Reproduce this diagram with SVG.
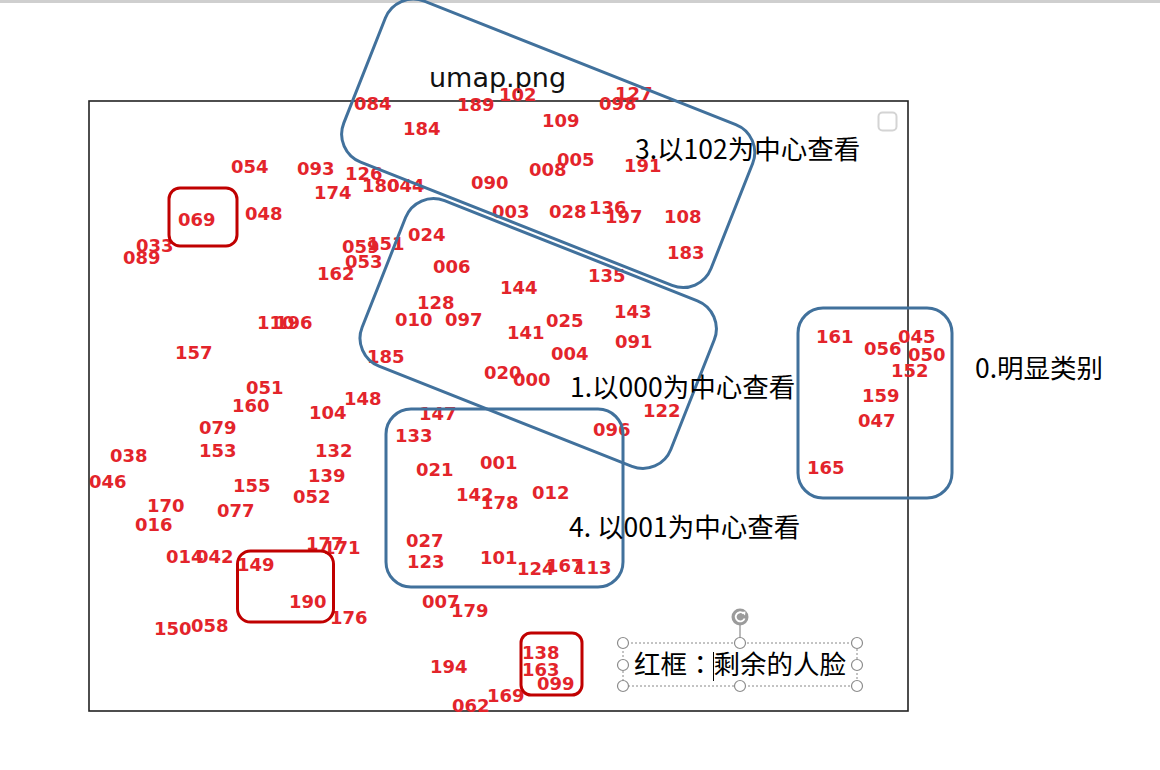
<svg xmlns="http://www.w3.org/2000/svg" width="1160" height="770" viewBox="0 0 1160 770">
<style>
.lbl{font-family:"DejaVu Sans","Liberation Sans",sans-serif;font-weight:bold;font-size:18px;fill:#e3242b}
.cjk{font-family:"Noto Sans CJK SC","Noto Sans",sans-serif;font-size:26.5px;fill:#000}
.ttl{font-family:"DejaVu Sans","Liberation Sans",sans-serif;font-size:27px;fill:#111}
.blue{fill:none;stroke:#41719c;stroke-width:3}
.red{fill:none;stroke:#c00000;stroke-width:3}
.hdl{fill:#fff;stroke:#8c8c8c;stroke-width:1.2}
</style>
<rect x="0" y="0" width="1160" height="770" fill="#fff"/>
<rect x="0" y="0" width="1160" height="3" fill="#cfcfcf"/>
<g id="plot">
<rect x="89" y="101" width="819" height="610" fill="none" stroke="#222" stroke-width="1.6"/>
<rect x="878.5" y="112.5" width="18" height="18" rx="4" fill="none" stroke="#d4d4d4" stroke-width="2"/>
<text class="ttl" x="429" y="87">umap.png</text>
</g>
<g id="labels">
<text class="lbl" x="354" y="110">084</text>
<text class="lbl" x="457" y="111">189</text>
<text class="lbl" x="499" y="101">102</text>
<text class="lbl" x="615" y="100">127</text>
<text class="lbl" x="599" y="110">098</text>
<text class="lbl" x="403" y="135">184</text>
<text class="lbl" x="542" y="127">109</text>
<text class="lbl" x="557" y="166">005</text>
<text class="lbl" x="529" y="176">008</text>
<text class="lbl" x="624" y="172">191</text>
<text class="lbl" x="471" y="189">090</text>
<text class="lbl" x="492" y="218">003</text>
<text class="lbl" x="549" y="218">028</text>
<text class="lbl" x="589" y="214">136</text>
<text class="lbl" x="605" y="223">197</text>
<text class="lbl" x="664" y="223">108</text>
<text class="lbl" x="667" y="259">183</text>
<text class="lbl" x="588" y="282">135</text>
<text class="lbl" x="500" y="294">144</text>
<text class="lbl" x="408" y="241">024</text>
<text class="lbl" x="433" y="273">006</text>
<text class="lbl" x="345" y="180">126</text>
<text class="lbl" x="362" y="192">180</text>
<text class="lbl" x="387" y="192">044</text>
<text class="lbl" x="297" y="175">093</text>
<text class="lbl" x="314" y="199">174</text>
<text class="lbl" x="231" y="173">054</text>
<text class="lbl" x="245" y="220">048</text>
<text class="lbl" x="178" y="226">069</text>
<text class="lbl" x="136" y="252">033</text>
<text class="lbl" x="123" y="264">089</text>
<text class="lbl" x="342" y="253">059</text>
<text class="lbl" x="367" y="250">151</text>
<text class="lbl" x="345" y="268">053</text>
<text class="lbl" x="317" y="280">162</text>
<text class="lbl" x="257" y="329">110</text>
<text class="lbl" x="275" y="329">196</text>
<text class="lbl" x="175" y="359">157</text>
<text class="lbl" x="246" y="394">051</text>
<text class="lbl" x="232" y="412">160</text>
<text class="lbl" x="344" y="405">148</text>
<text class="lbl" x="309" y="419">104</text>
<text class="lbl" x="199" y="434">079</text>
<text class="lbl" x="199" y="457">153</text>
<text class="lbl" x="315" y="457">132</text>
<text class="lbl" x="110" y="462">038</text>
<text class="lbl" x="89" y="488">046</text>
<text class="lbl" x="308" y="482">139</text>
<text class="lbl" x="233" y="492">155</text>
<text class="lbl" x="293" y="503">052</text>
<text class="lbl" x="147" y="512">170</text>
<text class="lbl" x="217" y="517">077</text>
<text class="lbl" x="135" y="531">016</text>
<text class="lbl" x="306" y="550">177</text>
<text class="lbl" x="323" y="554">171</text>
<text class="lbl" x="166" y="563">014</text>
<text class="lbl" x="196" y="563">042</text>
<text class="lbl" x="237" y="571">149</text>
<text class="lbl" x="289" y="608">190</text>
<text class="lbl" x="330" y="624">176</text>
<text class="lbl" x="154" y="635">150</text>
<text class="lbl" x="191" y="632">058</text>
<text class="lbl" x="367" y="363">185</text>
<text class="lbl" x="417" y="309">128</text>
<text class="lbl" x="395" y="326">010</text>
<text class="lbl" x="445" y="326">097</text>
<text class="lbl" x="614" y="318">143</text>
<text class="lbl" x="546" y="327">025</text>
<text class="lbl" x="507" y="339">141</text>
<text class="lbl" x="615" y="348">091</text>
<text class="lbl" x="551" y="360">004</text>
<text class="lbl" x="484" y="379">020</text>
<text class="lbl" x="513" y="386">000</text>
<text class="lbl" x="643" y="417">122</text>
<text class="lbl" x="419" y="420">147</text>
<text class="lbl" x="395" y="442">133</text>
<text class="lbl" x="593" y="436">096</text>
<text class="lbl" x="480" y="469">001</text>
<text class="lbl" x="416" y="476">021</text>
<text class="lbl" x="456" y="501">142</text>
<text class="lbl" x="481" y="509">178</text>
<text class="lbl" x="532" y="499">012</text>
<text class="lbl" x="406" y="547">027</text>
<text class="lbl" x="407" y="568">123</text>
<text class="lbl" x="480" y="564">101</text>
<text class="lbl" x="517" y="575">124</text>
<text class="lbl" x="546" y="572">167</text>
<text class="lbl" x="574" y="574">113</text>
<text class="lbl" x="422" y="608">007</text>
<text class="lbl" x="451" y="617">179</text>
<text class="lbl" x="430" y="673">194</text>
<text class="lbl" x="522" y="659">138</text>
<text class="lbl" x="522" y="676">163</text>
<text class="lbl" x="537" y="690">099</text>
<text class="lbl" x="487" y="702">169</text>
<text class="lbl" x="452" y="712">062</text>
<text class="lbl" x="816" y="343">161</text>
<text class="lbl" x="864" y="355">056</text>
<text class="lbl" x="898" y="343">045</text>
<text class="lbl" x="908" y="361">050</text>
<text class="lbl" x="891" y="377">152</text>
<text class="lbl" x="862" y="402">159</text>
<text class="lbl" x="858" y="427">047</text>
<text class="lbl" x="807" y="474">165</text>
</g>
<g id="group3">
<rect class="blue" x="-197.5" y="-86.5" width="395" height="173" rx="30" transform="translate(548.2 143.3) rotate(21.6)"/>
<text class="cjk" x="635" y="159">3.以102为中心查看</text>
</g>
<g id="group1">
<rect class="blue" x="-166" y="-89" width="332" height="178" rx="30" transform="translate(538.2 333.5) rotate(21.6)"/>
<text class="cjk" x="570" y="397">1.以000为中心查看</text>
</g>
<g id="group4">
<rect class="blue" x="386" y="409" width="237" height="178" rx="25"/>
<text class="cjk" x="569" y="537">4. 以001为中心查看</text>
</g>
<g id="group0">
<rect class="blue" x="798" y="308" width="154" height="190" rx="25"/>
<text class="cjk" x="975" y="378">0.明显类别</text>
</g>
<g id="red1"><rect class="red" x="169" y="188" width="68" height="58" rx="11"/></g>
<g id="red2"><rect class="red" x="237.5" y="551" width="96" height="71" rx="13"/></g>
<g id="red3"><rect class="red" x="521" y="633" width="61" height="62" rx="10"/></g>
<g id="legend">
<rect x="623" y="643" width="234" height="43" fill="none" stroke="#888" stroke-width="1" stroke-dasharray="2 2"/>
<line x1="740" y1="625" x2="740" y2="643" stroke="#8c8c8c" stroke-width="1.2"/>
<circle cx="740" cy="617" r="8.5" fill="#9b9b9b"/>
<path d="M743.5 613.5 A4.6 4.6 0 1 0 744.6 618.5" fill="none" stroke="#fff" stroke-width="1.8"/>
<path d="M741.5 612 L745.5 611.5 L745 615.5 Z" fill="#fff"/>
<circle class="hdl" cx="623" cy="643" r="5.5"/>
<circle class="hdl" cx="740" cy="643" r="5.5"/>
<circle class="hdl" cx="857" cy="643" r="5.5"/>
<circle class="hdl" cx="623" cy="665" r="5.5"/>
<circle class="hdl" cx="857" cy="665" r="5.5"/>
<circle class="hdl" cx="623" cy="686" r="5.5"/>
<circle class="hdl" cx="740" cy="686" r="5.5"/>
<circle class="hdl" cx="857" cy="686" r="5.5"/>
<text class="cjk" x="634" y="674">红框<tspan font-family="Noto Sans CJK TC, sans-serif">：</tspan>剩余的人脸</text>
<line x1="713.5" y1="652" x2="713.5" y2="681" stroke="#000" stroke-width="1"/>
</g>
<g id="connectors"/>
</svg>
